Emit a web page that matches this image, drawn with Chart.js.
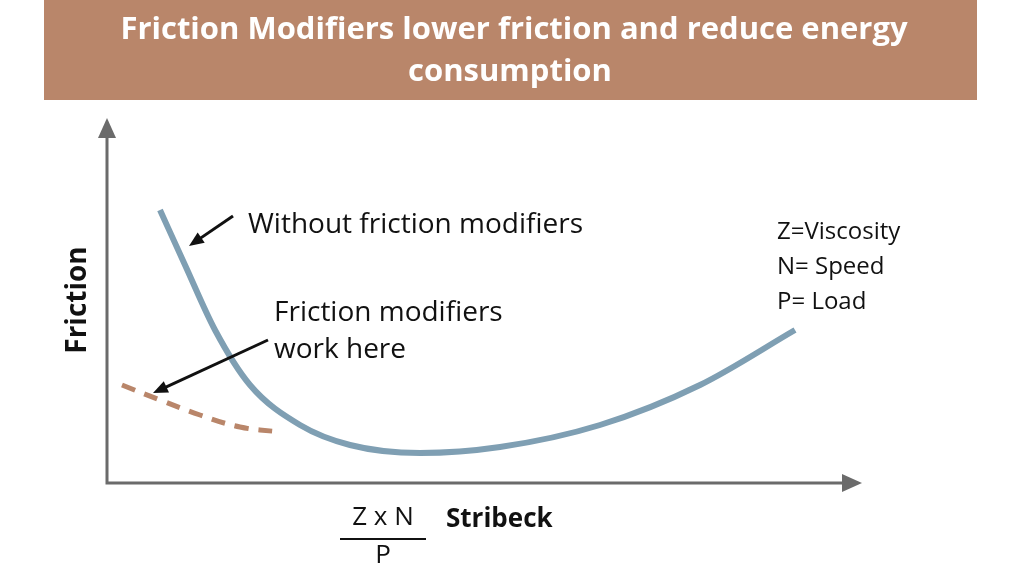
<!DOCTYPE html><html><head><meta charset="utf-8">
<script src="https://cdn.jsdelivr.net/npm/chart.js@4"></script>
<style>html,body{margin:0;padding:0;background:#fff}#w{width:1022px;height:575px}</style></head><body>
<div id="w"><canvas id="c"></canvas></div>
<script>
const titleLines = ["Friction Modifiers lower friction and reduce energy", "consumption"];
const curveX = [53, 78, 108, 143, 193, 243, 313, 393, 493, 593, 688];
const curveY = [273, 218, 153, 98, 58, 38, 30, 36, 58, 98, 153];
const fmX = [15, 53, 93, 133, 173];
const fmY = [98, 83, 68, 56, 51];
const legendNotes = ["Z=Viscosity", "N= Speed", "P= Load"];

const deco = {
  id: 'deco',
  afterDraw(ch) {
    const c = ch.ctx, a = ch.chartArea, xs = ch.scales.x, ys = ch.scales.y;
    c.save();
    // banner
    c.fillStyle = '#b9866a'; c.fillRect(44, 0, 933, 100);
    c.fillStyle = '#fff'; c.font = 'bold 31px "Open Sans", sans-serif';
    c.textAlign = 'center'; c.textBaseline = 'middle';
    c.fillText(titleLines[0], 514, 30); c.fillText(titleLines[1], 510, 72);
    // axis arrows
    c.fillStyle = '#6b6b6b';
    c.beginPath(); c.moveTo(a.left, 118); c.lineTo(a.left - 9, 138); c.lineTo(a.left + 9, 138); c.fill();
    c.beginPath(); c.moveTo(862, a.bottom); c.lineTo(842, a.bottom - 9); c.lineTo(842, a.bottom + 9); c.fill();
    c.strokeStyle = '#6b6b6b'; c.lineWidth = 3;
    c.beginPath(); c.moveTo(a.left, 136); c.lineTo(a.left, a.bottom); c.lineTo(845, a.bottom); c.stroke();
    // texts
    c.fillStyle = '#111'; c.textAlign = 'left';
    c.font = '28px "Open Sans", sans-serif';
    c.fillText('Without friction modifiers', 248, 225);
    c.fillText('Friction modifiers', 274, 313);
    c.fillText('work here', 274, 350);
    c.font = '24px "Open Sans", sans-serif';
    legendNotes.forEach((t, i) => c.fillText(t, 777, 232 + i * 35));
    c.font = 'bold 26px "Open Sans", sans-serif';
    c.fillText('Stribeck', 446, 520);
    c.font = '26px "Open Sans", sans-serif'; c.textAlign = 'center';
    c.fillText('Z x N', 383, 518); c.fillText('P', 383, 556);
    c.strokeStyle = '#111'; c.lineWidth = 2;
    c.beginPath(); c.moveTo(340, 539); c.lineTo(426, 539); c.stroke();
    c.save(); c.translate(78, 300); c.rotate(-Math.PI / 2);
    c.font = 'bold 28px "Open Sans", sans-serif'; c.fillText('Friction', 0, 0); c.restore();
    // pointer arrows
    function arrow(x1, y1, x2, y2) {
      c.strokeStyle = '#111'; c.fillStyle = '#111'; c.lineWidth = 3;
      const ang = Math.atan2(y2 - y1, x2 - x1);
      c.beginPath(); c.moveTo(x1, y1); c.lineTo(x2 - 10 * Math.cos(ang), y2 - 10 * Math.sin(ang)); c.stroke();
      c.beginPath(); c.moveTo(x2, y2);
      c.lineTo(x2 - 16 * Math.cos(ang - 0.4), y2 - 16 * Math.sin(ang - 0.4));
      c.lineTo(x2 - 16 * Math.cos(ang + 0.4), y2 - 16 * Math.sin(ang + 0.4)); c.fill();
    }
    arrow(233, 216, 189, 246);
    arrow(268, 340, 153, 393);
    c.restore();
  }
};

new Chart(document.getElementById('c'), {
  type: 'line',
  data: { datasets: [
    { data: curveX.map((x, i) => ({ x, y: curveY[i] })), borderColor: '#7f9fb3', borderWidth: 6, pointRadius: 0, tension: 0.4, cubicInterpolationMode: 'monotone' },
    { data: fmX.map((x, i) => ({ x, y: fmY[i] })), borderColor: '#b9866a', borderWidth: 5, borderDash: [14, 10], pointRadius: 0, tension: 0.4 }
  ]},
  plugins: [deco],
  options: {
    responsive: true, maintainAspectRatio: false, animation: false,
    layout: { padding: { left: 107, right: 172, top: 130, bottom: 92 } },
    plugins: { legend: { display: false }, tooltip: { enabled: false } },
    scales: {
      x: { type: 'linear', min: 0, max: 743, display: false },
      y: { min: 0, max: 353, display: false }
    }
  }
});
</script></body></html>
